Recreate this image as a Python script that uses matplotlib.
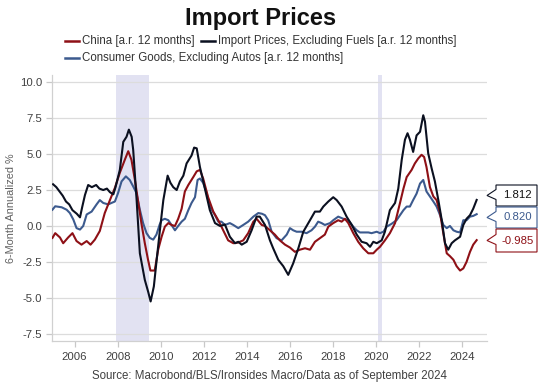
import matplotlib
matplotlib.use("Agg")
import matplotlib.pyplot as plt
from matplotlib.patches import Polygon
from matplotlib.lines import Line2D

plt.rcParams['font.family'] = ['Liberation Sans', 'DejaVu Sans']

# ---------------- data ----------------
china_x = [2004.97, 2005.1, 2005.32, 2005.47, 2005.7, 2005.9, 2006.09, 2006.32, 2006.56, 2006.74,
           2006.94, 2007.17, 2007.4, 2007.64, 2007.87, 2008.1, 2008.33, 2008.49, 2008.64, 2008.8,
           2008.95, 2009.1, 2009.26, 2009.41, 2009.52, 2009.72, 2009.88, 2010.04, 2010.19, 2010.35,
           2010.5, 2010.66, 2010.81, 2010.97, 2011.12, 2011.28, 2011.51, 2011.67, 2011.82, 2011.97,
           2012.2, 2012.44, 2012.67, 2012.9, 2013.13, 2013.37, 2013.6, 2013.83, 2014.06, 2014.3,
           2014.45, 2014.69, 2014.84, 2015.07, 2015.3, 2015.53, 2015.77, 2016.0, 2016.23, 2016.46,
           2016.7, 2016.93, 2017.16, 2017.39, 2017.62, 2017.78, 2018.01, 2018.24, 2018.4, 2018.55,
           2018.71, 2018.94, 2019.17, 2019.4, 2019.64, 2019.87, 2020.03, 2020.18, 2020.41, 2020.64,
           2020.88, 2021.11, 2021.27, 2021.42, 2021.65, 2021.8, 2021.96, 2022.11, 2022.23, 2022.34,
           2022.5, 2022.66, 2022.81, 2022.97, 2023.12, 2023.28, 2023.43, 2023.59, 2023.74, 2023.9,
           2024.05, 2024.2, 2024.36, 2024.51, 2024.67]
china_y = [-0.83, -0.5, -0.8, -1.2, -0.8, -0.5, -1.05, -1.3, -1.05, -1.3,
           -0.95, -0.35, 0.9, 1.8, 2.65, 3.7, 4.6, 5.2, 4.6, 3.2,
           1.7, 0.2, -1.2, -2.35, -3.1, -3.1, -1.65, -0.75, -0.05, 0.2,
           0.07, 0.0, 0.5, 1.2, 2.4, 2.85, 3.4, 3.8, 3.9, 3.3,
           2.0, 1.0, 0.4, -0.3, -1.0, -1.2, -1.15, -1.0, -0.5, 0.3,
           0.5, 0.07, 0.0, -0.3, -0.6, -1.0, -1.3, -1.5, -1.8, -1.65,
           -1.55, -1.65, -1.1, -0.85, -0.6, -0.05, 0.2, 0.4, 0.3, 0.5,
           0.2, -0.5, -1.1, -1.55, -1.9, -1.9, -1.65, -1.45, -1.0, -0.5,
           0.2, 1.6, 2.6, 3.4, 3.9, 4.35, 4.7, 4.95, 4.8, 4.1,
           2.7, 2.05, 1.8, 0.9, -0.5, -1.9, -2.1, -2.35, -2.8, -3.1,
           -2.95, -2.5, -1.8, -1.3, -0.985]

imports_x = [2005.0, 2005.15, 2005.3, 2005.45, 2005.6, 2005.75, 2005.9, 2006.1, 2006.25, 2006.35,
             2006.48, 2006.63, 2006.8, 2007.0, 2007.15, 2007.33, 2007.5, 2007.64, 2007.8, 2007.9,
             2008.1, 2008.26, 2008.41, 2008.52, 2008.65, 2008.72, 2008.88, 2009.03, 2009.26, 2009.42,
             2009.53, 2009.68, 2009.81, 2009.96, 2010.12, 2010.32, 2010.45, 2010.58, 2010.74, 2010.89,
             2011.05, 2011.2, 2011.43, 2011.55, 2011.67, 2011.82, 2012.05, 2012.28, 2012.52, 2012.75,
             2012.98, 2013.21, 2013.45, 2013.6, 2013.76, 2013.99, 2014.22, 2014.45, 2014.6, 2014.84,
             2015.07, 2015.22, 2015.46, 2015.69, 2015.92, 2016.15, 2016.39, 2016.62, 2016.93, 2017.16,
             2017.39, 2017.55, 2017.78, 2018.01, 2018.17, 2018.4, 2018.63, 2018.87, 2019.1, 2019.33,
             2019.56, 2019.72, 2019.87, 2020.03, 2020.26, 2020.41, 2020.64, 2020.88, 2021.03, 2021.19,
             2021.34, 2021.46, 2021.57, 2021.72, 2021.88, 2022.04, 2022.19, 2022.27, 2022.42, 2022.58,
             2022.73, 2022.89, 2023.05, 2023.2, 2023.35, 2023.51, 2023.66, 2023.9, 2024.05, 2024.2,
             2024.36, 2024.51, 2024.67]
imports_y = [2.9, 2.7, 2.4, 2.1, 1.7, 1.5, 1.1, 0.85, 0.6, 1.3,
             2.15, 2.85, 2.7, 2.85, 2.6, 2.5, 2.6, 2.35, 2.2, 2.7,
             3.9, 5.85, 6.2, 6.7, 6.2, 5.3, 1.8, -1.9, -3.75, -4.6,
             -5.25, -4.2, -2.36, -0.3, 1.8, 3.5, 3.0, 2.7, 2.5, 3.1,
             3.5, 4.35, 4.9, 5.45, 5.4, 4.1, 2.6, 1.1, 0.2, 0.0,
             0.1, -0.75, -1.2, -1.1, -1.3, -1.1, -0.3, 0.65, 0.65, 0.07,
             -1.0, -1.55, -2.36, -2.8, -3.4, -2.6, -1.55, -0.4, 0.4, 1.0,
             1.0, 1.35, 1.7, 2.0, 1.8, 1.35, 0.65, 0.07, -0.6, -1.1,
             -1.2, -1.45, -1.1, -1.2, -1.0, -0.4, 1.1, 1.6, 2.6, 4.6,
             6.0, 6.45, 6.0, 5.15, 6.3, 6.55, 7.7, 7.25, 5.05, 4.0,
             3.1, 1.8, 0.4, -1.2, -1.65, -1.2, -1.0, -0.75, 0.07, 0.5,
             0.75, 1.2, 1.812]

consumer_x = [2004.97, 2005.1, 2005.4, 2005.63, 2005.78, 2005.94, 2006.09, 2006.25, 2006.4, 2006.56,
              2006.79, 2007.02, 2007.17, 2007.33, 2007.56, 2007.71, 2007.87, 2008.02, 2008.18, 2008.38,
              2008.56, 2008.72, 2008.87, 2009.03, 2009.18, 2009.34, 2009.49, 2009.65, 2009.8, 2009.95,
              2010.04, 2010.19, 2010.35, 2010.5, 2010.66, 2010.81, 2010.97, 2011.12, 2011.28, 2011.43,
              2011.59, 2011.71, 2011.82, 2011.97, 2012.13, 2012.28, 2012.52, 2012.67, 2012.82, 2012.98,
              2013.21, 2013.37, 2013.6, 2013.83, 2014.06, 2014.3, 2014.53, 2014.7, 2014.84, 2014.99,
              2015.15, 2015.38, 2015.61, 2015.85, 2016.0, 2016.15, 2016.31, 2016.54, 2016.77, 2017.0,
              2017.16, 2017.31, 2017.47, 2017.62, 2017.86, 2018.01, 2018.24, 2018.48, 2018.71, 2018.94,
              2019.1, 2019.25, 2019.48, 2019.64, 2019.79, 2020.03, 2020.18, 2020.34, 2020.49, 2020.72,
              2020.95, 2021.11, 2021.27, 2021.42, 2021.57, 2021.72, 2021.88, 2022.04, 2022.19, 2022.34,
              2022.5, 2022.66, 2022.81, 2022.97, 2023.12, 2023.28, 2023.43, 2023.59, 2023.74, 2023.9,
              2024.05, 2024.2, 2024.36, 2024.51, 2024.67]
consumer_y = [1.13, 1.37, 1.3, 1.13, 0.9, 0.45, -0.15, -0.25, 0.0, 0.8,
              1.0, 1.5, 1.8, 1.6, 1.5, 1.6, 1.7, 2.3, 3.1, 3.45,
              3.2, 2.75, 2.3, 1.13, 0.2, -0.5, -0.83, -0.95, -0.6, 0.1,
              0.4, 0.5, 0.4, 0.07, -0.3, 0.0, 0.3, 0.5, 1.1, 1.6,
              2.0, 3.2, 3.3, 3.0, 2.3, 1.35, 0.75, 0.3, 0.3, 0.07,
              0.2, 0.07, -0.15, 0.07, 0.3, 0.65, 0.9, 0.85, 0.75, 0.4,
              -0.4, -0.85, -1.0, -0.6, -0.15, -0.3, -0.4, -0.4, -0.5, -0.3,
              -0.05, 0.3, 0.2, 0.07, 0.2, 0.4, 0.65, 0.5, 0.4, -0.05,
              -0.3, -0.45, -0.45, -0.45, -0.5, -0.4, -0.5, -0.4, -0.05, 0.15,
              0.4, 0.75, 1.1, 1.35, 1.35, 1.8, 2.25, 2.95, 3.2, 2.4,
              2.05, 1.7, 1.35, 0.75, 0.07, -0.15, 0.0, -0.3, -0.4, -0.45,
              0.4, 0.4, 0.65, 0.7, 0.82]

recessions = [(2007.92, 2009.45), (2020.1, 2020.27)]
y_ticks = [-7.5, -5.0, -2.5, 0.0, 2.5, 5.0, 7.5, 10.0]
x_ticks = [2006, 2008, 2010, 2012, 2014, 2016, 2018, 2020, 2022, 2024]

names = ["China [a.r. 12 months]",
         "Import Prices, Excluding Fuels [a.r. 12 months]",
         "Consumer Goods, Excluding Autos [a.r. 12 months]"]
last_labels = ["1.812", "0.820", "-0.985"]

# ---------------- style ----------------
C_RED = "#8e1016"
C_BLACK = "#0b1020"
C_BLUE = "#3c5a8e"
GRID = "#dcdcdc"
TXT = "#404040"

W, H = 540, 385
fig = plt.figure(figsize=(W / 100, H / 100), dpi=100)

def fx(px):
    return px / W

def fy(py):
    return 1 - py / H

ax_l, ax_r, ax_t, ax_b = 52, 487, 75, 341
ax = fig.add_axes([fx(ax_l), fy(ax_b), fx(ax_r - ax_l), (ax_b - ax_t) / H])

for a, b in recessions:
    ax.axvspan(a, b, color="#e2e2f2", lw=0, zorder=0)

ax.plot(consumer_x, consumer_y, color=C_BLUE, lw=1.5, zorder=3)
ax.plot(china_x, china_y, color=C_RED, lw=1.5, zorder=4)
ax.plot(imports_x, imports_y, color=C_BLACK, lw=1.5, zorder=5)

ax.set_xlim(2004.95, 2025.15)
ax.set_ylim(-8.0, 10.5)
ax.set_yticks(y_ticks)
ax.set_yticklabels([f"{v:.1f}" for v in y_ticks])
ax.set_xticks(x_ticks)
ax.set_xticklabels([str(v) for v in x_ticks])
ax.grid(axis="y", color=GRID, lw=0.9, zorder=1)
ax.set_axisbelow(True)
for s in ["top", "right"]:
    ax.spines[s].set_visible(False)
for s in ["left", "bottom"]:
    ax.spines[s].set_color("#d0d0d0")
    ax.spines[s].set_linewidth(0.9)
ax.tick_params(axis="both", colors="#c8c8c8", labelcolor=TXT, labelsize=8.2, length=4, width=0.9)
ax.tick_params(axis="x", pad=4)
ax.tick_params(axis="y", pad=3)
ax.set_ylabel("6-Month Annualized %", color="#606060", fontsize=7.8, labelpad=3)

# Title
fig.text(fx(261), fy(18), "Import Prices", ha="center", va="center", fontsize=17,
         fontweight="bold", color="#111111")

# Legend (manual)
leg_items = [(65, 41, C_RED, names[0]), (201, 41, C_BLACK, names[1]), (65, 58, C_BLUE, names[2])]
for x0, y0, c, t in leg_items:
    fig.add_artist(Line2D([fx(x0), fx(x0 + 14)], [fy(y0), fy(y0)], color=c, lw=1.8,
                          transform=fig.transFigure))
    fig.text(fx(x0 + 17), fy(y0), t, ha="left", va="center", fontsize=8.3, color="#333333")

# Source
fig.text(0.5, fy(376), "Source: Macrobond/BLS/Ironsides Macro/Data as of September 2024",
         ha="center", va="center", fontsize=8.3, color="#404040")

# Last-value callouts
boxes = [(185, 206, C_BLACK, "#111111", last_labels[0]),
         (207, 228, C_BLUE, C_BLUE, last_labels[1]),
         (229, 252, C_RED, C_RED, last_labels[2])]
for top, bot, ec, tc, lab in boxes:
    cy = (top + bot) / 2
    left, right, tip = 496, 537, 487
    pts = [(tip, cy), (left, cy - 6), (left, top), (right, top), (right, bot),
           (left, bot), (left, cy + 4)]
    poly = Polygon([(fx(px), fy(py)) for px, py in pts], closed=True,
                   transform=fig.transFigure, facecolor="white", edgecolor=ec, lw=0.8)
    fig.add_artist(poly)
    fig.text(fx((left + right) / 2 + 1), fy(cy), lab, ha="center", va="center",
             fontsize=8.2, color=tc)

fig.savefig("out.png", dpi=100)
